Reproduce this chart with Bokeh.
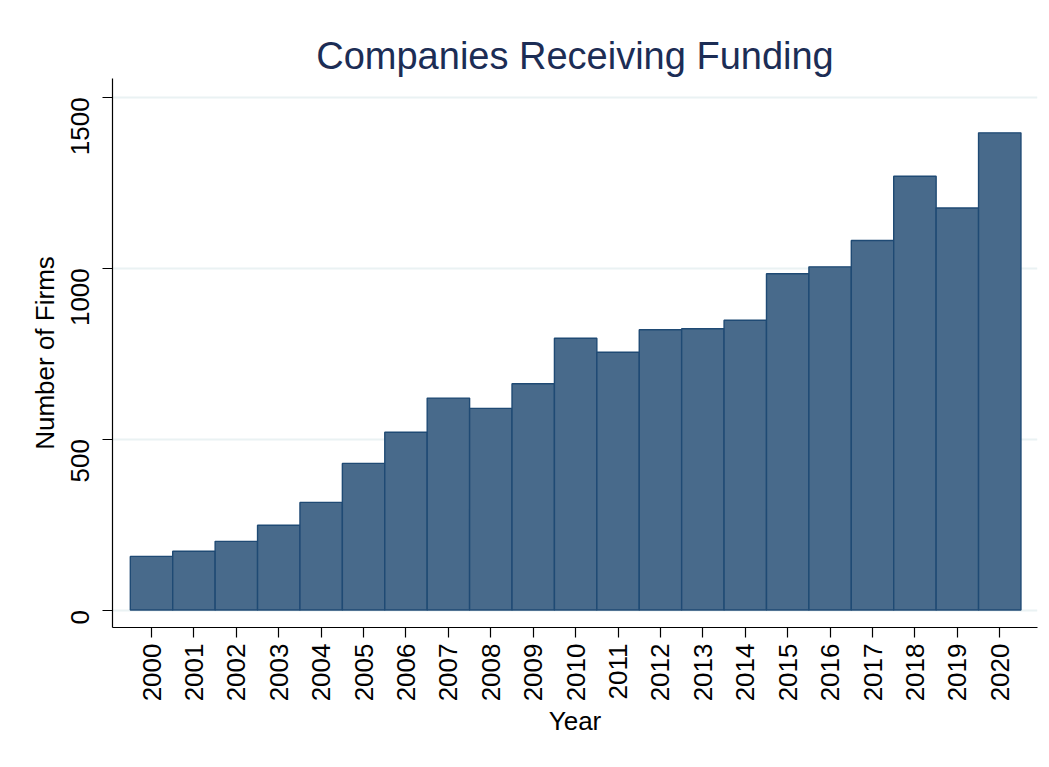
import math
from bokeh.plotting import figure
from bokeh.models import FixedTicker, Range1d, BoxAnnotation
from bokeh.embed import file_html
from bokeh.resources import INLINE

years = list(range(2000, 2021))
firms = [157, 172, 201, 248, 315, 429, 520, 620, 590, 662, 795,
         754, 820, 823, 848, 984, 1004, 1081, 1269, 1176, 1396]
y_ticks = [0, 500, 1000, 1500]

title_text = "Companies Receiving Funding"
x_label = "Year"
y_label = "Number of Firms"

FONT = "Liberation Sans"

p = figure(width=1041, height=759, output_backend="svg", toolbar_location=None,
           x_range=Range1d(1999.08, 2020.89), y_range=Range1d(-51, 1555),
           min_border_left=112, min_border_right=4, min_border_top=78,
           min_border_bottom=132)

p.border_fill_color = "white"
p.background_fill_color = "white"
p.outline_line_color = None

# light outer graph-region border (Stata style)
p.add_layout(BoxAnnotation(left=8, right=1100, top=8, bottom=800,
                           left_units="canvas", right_units="canvas",
                           top_units="canvas", bottom_units="canvas",
                           fill_color=None, line_color="#eaf2f3",
                           line_width=2, level="underlay"))

p.title.text = title_text
p.title.align = "center"
p.title.text_font = FONT
p.title.text_font_size = "38px"
p.title.text_font_style = "normal"
p.title.text_color = "#1c2d55"
p.title.standoff = 4

p.vbar(x=years, top=firms, bottom=0, width=1.0,
       fill_color="#486a8b", line_color="#1f4a74", line_width=1.4)

p.xgrid.visible = False
p.ygrid.ticker = FixedTicker(ticks=y_ticks)
p.ygrid.grid_line_color = "#eaf2f3"
p.ygrid.grid_line_width = 2

for ax in (p.xaxis[0], p.yaxis[0]):
    ax.axis_line_color = "black"
    ax.axis_line_width = 1.2
    ax.major_tick_line_color = "black"
    ax.major_tick_line_width = 1.2
    ax.major_tick_out = 10
    ax.major_tick_in = 0
    ax.minor_tick_line_color = None
    ax.major_label_text_font = FONT
    ax.major_label_text_font_size = "26px"
    ax.major_label_text_color = "black"
    ax.axis_label_text_font = FONT
    ax.axis_label_text_font_size = "26px"
    ax.axis_label_text_font_style = "normal"
    ax.axis_label_text_color = "black"

p.xaxis.ticker = FixedTicker(ticks=years)
p.xaxis.major_label_orientation = math.pi / 2
p.xaxis.major_label_standoff = 6
p.xaxis.axis_label = x_label
p.xaxis.axis_label_standoff = 2

p.yaxis.ticker = FixedTicker(ticks=y_ticks)
p.yaxis.major_label_orientation = math.pi / 2
p.yaxis.major_label_standoff = 22
p.yaxis.axis_label = y_label
p.yaxis.axis_label_standoff = 0

open("out.html", "w").write(file_html(p, INLINE))
